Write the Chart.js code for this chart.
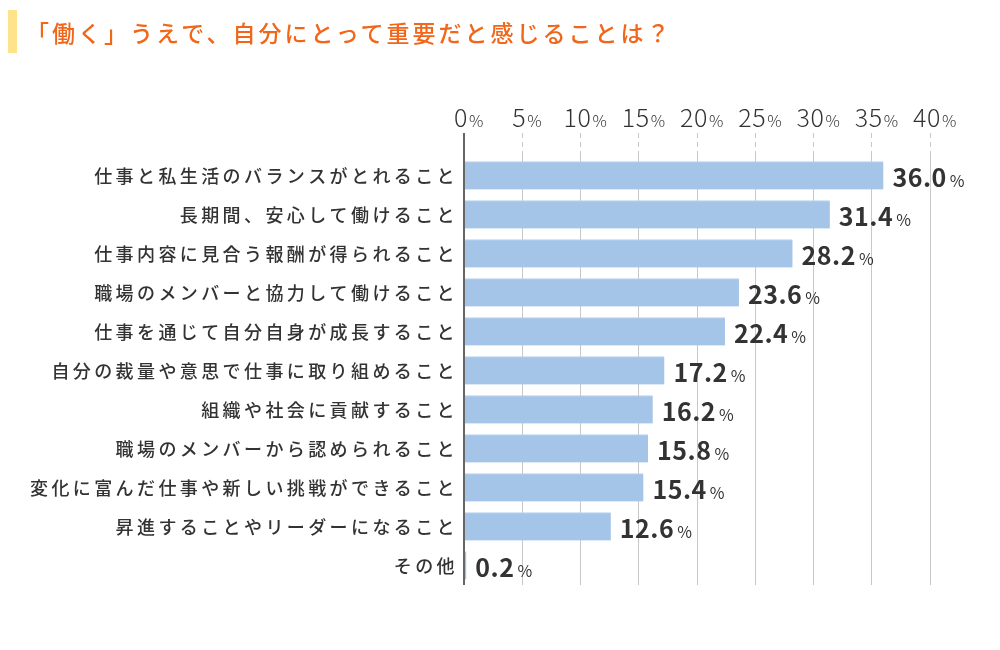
<!DOCTYPE html>
<html lang="ja">
<head>
<meta charset="utf-8">
<script src="https://cdn.jsdelivr.net/npm/chart.js@4/dist/chart.umd.min.js"></script>
<style>
  html, body { margin: 0; padding: 0; background: #fff; }
  #wrap { position: relative; width: 1000px; height: 650px; }
  #title {
    position: absolute; left: 8px; top: 10px; height: 43px;
    border-left: 9px solid #ffe38a;
    padding-left: 9px;
    font-family: "Noto Sans CJK JP", sans-serif;
    font-size: 23px; font-weight: 500; line-height: 44px; letter-spacing: 3px;
    color: #f2661a;
  }
  #chart { position: absolute; left: 0; top: 0; }
</style>
</head>
<body>
<div id="wrap">
  <canvas id="chart" width="1000" height="650"></canvas>
  <div id="title">「働く」うえで、自分にとって重要だと感じることは？</div>
</div>
<script>
const categories = [
    '仕事と私生活のバランスがとれること',
    '長期間、安心して働けること',
    '仕事内容に見合う報酬が得られること',
    '職場のメンバーと協力して働けること',
    '仕事を通じて自分自身が成長すること',
    '自分の裁量や意思で仕事に取り組めること',
    '組織や社会に貢献すること',
    '職場のメンバーから認められること',
    '変化に富んだ仕事や新しい挑戦ができること',
    '昇進することやリーダーになること',
    'その他'
];
const values = [36.0, 31.4, 28.2, 23.6, 22.4, 17.2, 16.2, 15.8, 15.4, 12.6, 0.2];
const tickValues = [0, 5, 10, 15, 20, 25, 30, 35, 40];

const font = '"Noto Sans CJK JP", sans-serif';

// draws the labels by hand: number and % in two sizes
const labelPlugin = {
    id: 'labels',
    afterDraw(chart) {
        const ctx = chart.ctx;
        const x = chart.scales.x;
        const y = chart.scales.y;
        const area = chart.chartArea;
        ctx.save();

        // zero line, runs up past the chart area like the ticks
        ctx.strokeStyle = '#666';
        ctx.lineWidth = 2;
        ctx.beginPath();
        ctx.moveTo(x.getPixelForValue(0), area.top - 23);
        ctx.lineTo(x.getPixelForValue(0), area.bottom);
        ctx.stroke();

        // top tick labels
        ctx.textBaseline = 'alphabetic';
        ctx.fillStyle = '#333';
        ctx.textAlign = 'left';
        tickValues.forEach(v => {
            const px = x.getPixelForValue(v);
            const num = String(v);
            ctx.letterSpacing = '0.5px';
            ctx.font = '300 25px ' + font;
            const w = ctx.measureText(num).width;
            ctx.fillText(num, px - w / 2 - 3, 127);
            ctx.font = '300 16px ' + font;
            ctx.fillText('%', px + w / 2 - 2, 127);
        });

        // category labels
        ctx.letterSpacing = '3.4px';
        ctx.font = '500 18px ' + font;
        ctx.fillStyle = '#333';
        ctx.textAlign = 'right';
        ctx.textBaseline = 'middle';
        categories.forEach((c, i) => {
            ctx.fillText(c, x.left - 6, y.getPixelForValue(i) + 1);
        });

        // value labels
        ctx.textAlign = 'left';
        ctx.textBaseline = 'alphabetic';
        values.forEach((v, i) => {
            const px = x.getPixelForValue(v) + 9;
            const py = y.getPixelForValue(i) + 11;
            const num = v.toFixed(1);
            ctx.letterSpacing = '0.5px';
            ctx.font = '600 25px ' + font;
            ctx.fillStyle = '#333';
            ctx.fillText(num, px, py);
            const w = ctx.measureText(num).width;
            ctx.font = '16px ' + font;
            ctx.fillText('%', px + w + 3, py);
        });
        ctx.restore();
    }
};

new Chart(document.getElementById('chart'), {
    type: 'bar',
    data: {
        labels: categories,
        datasets: [{
            data: values,
            backgroundColor: '#a4c4e8',
            borderColor: '#b9d3f0',
            borderWidth: { top: 1, right: 0, bottom: 0, left: 0 },
            borderSkipped: false,
            barThickness: 28
        }]
    },
    options: {
        indexAxis: 'y',
        responsive: false,
        animation: false,
        layout: { padding: { left: 0, right: 70, top: 0, bottom: 65 } },
        plugins: {
            legend: { display: false },
            tooltip: { enabled: false }
        },
        scales: {
            x: {
                position: 'top',
                min: 0,
                max: 40,
                ticks: { stepSize: 5, display: false },
                grid: {
                    color: '#c8c8c8',
                    lineWidth: 1,
                    borderDash: [5, 4],
                    tickBorderDash: [5, 4],
                    drawTicks: true,
                    tickLength: 23
                },
                border: { display: false },
                afterFit(scale) { scale.height = 156; }
            },
            y: {
                ticks: { display: false },
                grid: { display: false },
                border: { display: false },
                afterFit(scale) { scale.width = 464; }
            }
        }
    },
    plugins: [labelPlugin]
});
</script>
</body>
</html>
